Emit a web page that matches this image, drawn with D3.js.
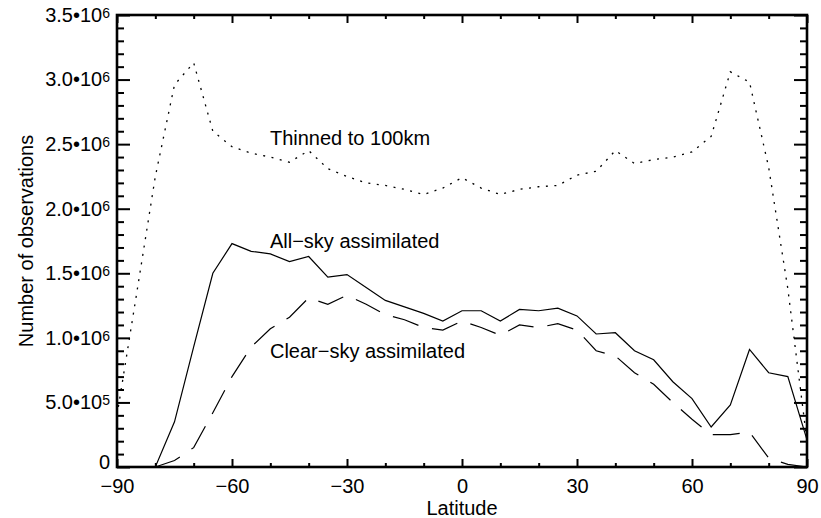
<!DOCTYPE html>
<html>
<head>
<meta charset="utf-8">
<script src="https://cdn.jsdelivr.net/npm/d3@7"></script>
<style>
  body { margin: 0; background: #fff; }
  svg { display: block; }
  text { font-family: "Liberation Sans", Arial, Helvetica, sans-serif; fill: #000; }
</style>
</head>
<body>
<svg id="chart" width="821" height="518"></svg>
<script>
// Latitude bins (degrees)
const latitudes = [-90, -85, -80, -75, -70, -65, -60, -55, -50, -45, -40, -35, -30, -25, -20, -15, -10, -5,
                   0, 5, 10, 15, 20, 25, 30, 35, 40, 45, 50, 55, 60, 65, 70, 75, 80, 85, 90];

// Observation counts per bin
const thinned = [0.40e6, 1.32e6, 2.25e6, 2.96e6, 3.13e6, 2.60e6, 2.48e6, 2.43e6, 2.40e6, 2.36e6, 2.45e6, 2.31e6,
                 2.25e6, 2.20e6, 2.18e6, 2.15e6, 2.11e6, 2.16e6, 2.24e6, 2.16e6, 2.11e6, 2.15e6, 2.17e6, 2.18e6,
                 2.26e6, 2.29e6, 2.45e6, 2.35e6, 2.38e6, 2.40e6, 2.44e6, 2.56e6, 3.06e6, 2.98e6, 2.32e6, 1.38e6, 0.20e6];
const allSky = [0, 0, 0, 0.35e6, 0.93e6, 1.50e6, 1.73e6, 1.67e6, 1.65e6, 1.59e6, 1.63e6, 1.47e6,
                1.49e6, 1.39e6, 1.29e6, 1.24e6, 1.19e6, 1.13e6, 1.21e6, 1.21e6, 1.13e6, 1.22e6, 1.21e6, 1.23e6,
                1.17e6, 1.03e6, 1.04e6, 0.90e6, 0.83e6, 0.66e6, 0.53e6, 0.31e6, 0.48e6, 0.91e6, 0.73e6, 0.70e6, 0.21e6];
const clearSky = [0, 0, 0, 0.05e6, 0.15e6, 0.42e6, 0.70e6, 0.93e6, 1.07e6, 1.16e6, 1.31e6, 1.26e6,
                  1.33e6, 1.26e6, 1.18e6, 1.14e6, 1.08e6, 1.06e6, 1.13e6, 1.08e6, 1.02e6, 1.10e6, 1.08e6, 1.11e6,
                  1.06e6, 0.90e6, 0.86e6, 0.73e6, 0.64e6, 0.50e6, 0.37e6, 0.25e6, 0.25e6, 0.27e6, 0.07e6, 0.02e6, 0];

// Axis ticks and labels
const xMajorTicks = [-90, -60, -30, 0, 30, 60, 90];
const xMinorTicks = [-80, -70, -50, -40, -20, -10, 10, 20, 40, 50, 70, 80];
const yMajorTicks = [0, 0.5e6, 1.0e6, 1.5e6, 2.0e6, 2.5e6, 3.0e6, 3.5e6];
const yTickLabels = ["0", "5.0•10^5", "1.0•10^6", "1.5•10^6", "2.0•10^6", "2.5•10^6", "3.0•10^6", "3.5•10^6"];
const yMinorTicks = [0.1e6, 0.2e6, 0.3e6, 0.4e6, 0.6e6, 0.7e6, 0.8e6, 0.9e6, 1.1e6, 1.2e6, 1.3e6, 1.4e6,
                     1.6e6, 1.7e6, 1.8e6, 1.9e6, 2.1e6, 2.2e6, 2.3e6, 2.4e6, 2.6e6, 2.7e6, 2.8e6, 2.9e6,
                     3.1e6, 3.2e6, 3.3e6, 3.4e6];

const seriesNames = ["Thinned to 100km", "All\u2212sky assimilated", "Clear\u2212sky assimilated"];

// Plot frame
const frame = { left: 117, right: 807, top: 15, bottom: 467 };
const svg = d3.select("#chart");

const x = d3.scaleLinear().domain([-90, 90]).range([frame.left, frame.right]);
const y = d3.scaleLinear().domain([0, 3.5e6]).range([frame.bottom, frame.top]);

const line = (vals) => d3.line()
  .x((d, i) => x(latitudes[i]))
  .y(d => y(d))(vals);

// Data curves
svg.append("path").attr("d", line(thinned))
  .attr("fill", "none").attr("stroke", "#000").attr("stroke-width", 1.3)
  .attr("stroke-dasharray", "2,6.5");
svg.append("path").attr("d", line(allSky))
  .attr("fill", "none").attr("stroke", "#000").attr("stroke-width", 1.2);
svg.append("path").attr("d", line(clearSky))
  .attr("fill", "none").attr("stroke", "#000").attr("stroke-width", 1.2)
  .attr("stroke-dasharray", "27,14").attr("stroke-dashoffset", 3);

// Axes (ticks point inward)
function styleAxis(g) {
  g.select(".domain").remove();
  g.selectAll(".tick line").attr("stroke", "#000").attr("stroke-width", 2);
  g.selectAll("text").attr("font-size", 20).attr("font-family", null);
}

svg.append("g").attr("transform", `translate(0,${frame.bottom})`)
  .call(d3.axisBottom(x).tickValues(xMajorTicks).tickSize(-8).tickPadding(12)
        .tickFormat(d => d < 0 ? "\u2212" + Math.abs(d) : String(d)))
  .call(styleAxis);
svg.append("g").attr("transform", `translate(0,${frame.bottom})`)
  .call(d3.axisBottom(x).tickValues(xMinorTicks).tickSize(-4).tickFormat(""))
  .call(styleAxis);
svg.append("g").attr("transform", `translate(0,${frame.top})`)
  .call(d3.axisTop(x).tickValues(xMajorTicks).tickSize(-8).tickFormat(""))
  .call(styleAxis);
svg.append("g").attr("transform", `translate(0,${frame.top})`)
  .call(d3.axisTop(x).tickValues(xMinorTicks).tickSize(-4).tickFormat(""))
  .call(styleAxis);

const yLeft = svg.append("g").attr("transform", `translate(${frame.left},0)`)
  .call(d3.axisLeft(y).tickValues(yMajorTicks).tickSize(-13).tickPadding(7)
        .tickFormat((d, i) => yTickLabels[i]))
  .call(styleAxis);
svg.append("g").attr("transform", `translate(${frame.left},0)`)
  .call(d3.axisLeft(y).tickValues(yMinorTicks).tickSize(-7).tickFormat(""))
  .call(styleAxis);
svg.append("g").attr("transform", `translate(${frame.right},0)`)
  .call(d3.axisRight(y).tickValues(yMajorTicks).tickSize(-13).tickFormat(""))
  .call(styleAxis);
svg.append("g").attr("transform", `translate(${frame.right},0)`)
  .call(d3.axisRight(y).tickValues(yMinorTicks).tickSize(-7).tickFormat(""))
  .call(styleAxis);

// Mantissa•10 with a raised exponent
yLeft.selectAll(".tick text").each(function(d, i) {
  const t = d3.select(this);
  const parts = yTickLabels[i].split("^");
  t.text(null);
  t.append("tspan").text(parts[0]);
  if (parts.length > 1) {
    t.append("tspan").attr("font-size", 14).attr("dy", "-0.3em").text(parts[1]);
  }
  if (d === 0) t.attr("dy", "0.05em");
});

// Frame
svg.append("rect")
  .attr("x", frame.left).attr("y", frame.top)
  .attr("width", frame.right - frame.left).attr("height", frame.bottom - frame.top)
  .attr("fill", "none").attr("stroke", "#000").attr("stroke-width", 2.6);

// Axis titles
svg.append("text")
  .attr("x", (frame.left + frame.right) / 2).attr("y", 515)
  .attr("text-anchor", "middle").attr("font-size", 20)
  .text("Latitude");
svg.append("text")
  .attr("transform", `translate(33,${(frame.top + frame.bottom) / 2}) rotate(-90)`)
  .attr("text-anchor", "middle").attr("font-size", 20)
  .text("Number of observations");

// Curve annotations
const annotationAnchors = [[-50.1, 2.49e6], [-50.1, 1.695e6], [-50.1, 0.845e6]];
seriesNames.forEach((name, i) => {
  svg.append("text")
    .attr("x", x(annotationAnchors[i][0])).attr("y", y(annotationAnchors[i][1]))
    .attr("font-size", 20)
    .text(name);
});
</script>
</body>
</html>
